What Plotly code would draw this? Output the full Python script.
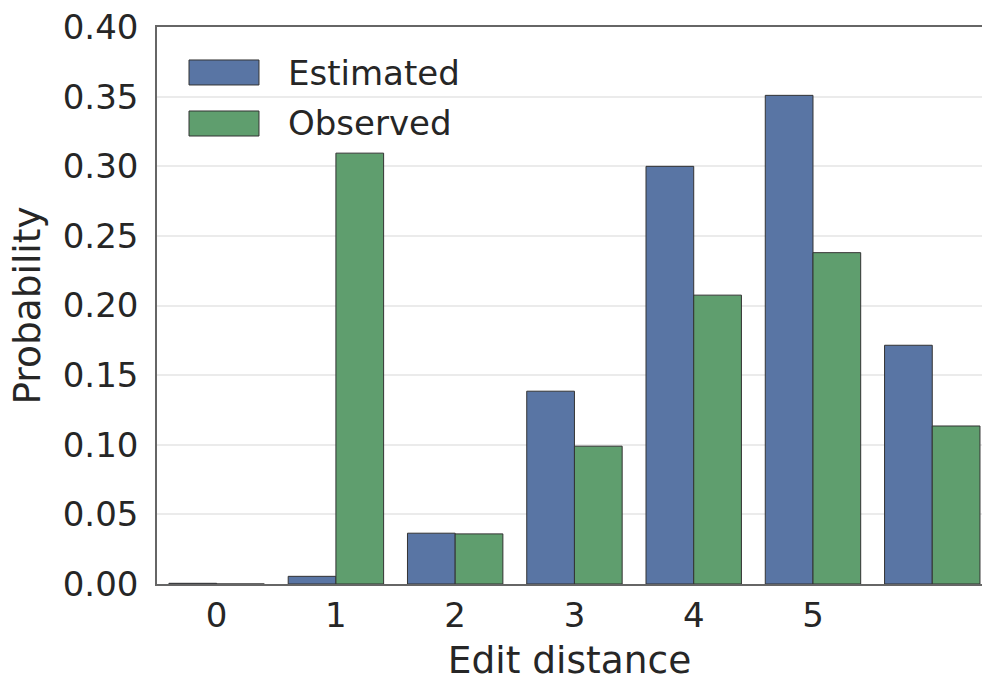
import plotly.graph_objects as go

categories = [0, 1, 2, 3, 4, 5, 6]
tick_labels = ["0", "1", "2", "3", "4", "5"]
y_ticks = [0.0, 0.05, 0.10, 0.15, 0.20, 0.25, 0.30, 0.35, 0.40]
estimated = [0.0005, 0.0055, 0.0365, 0.1385, 0.300, 0.351, 0.1715]
observed = [0.0, 0.3095, 0.036, 0.099, 0.2075, 0.238, 0.1135]

blue = "#5975a4"
green = "#5f9e6e"
edge = "#333333"
font_fam = "DejaVu Sans"
txt = "#262626"

fig = go.Figure()
fig.add_trace(go.Bar(x=categories, y=estimated, name="Estimated",
                     marker=dict(color=blue, line=dict(color=edge, width=1))))
fig.add_trace(go.Bar(x=categories, y=observed, name="Observed",
                     marker=dict(color=green, line=dict(color=edge, width=1))))

fig.update_layout(
    width=982, height=682,
    margin=dict(l=157, r=0, t=27, b=98),
    paper_bgcolor="white", plot_bgcolor="white",
    barmode="group", bargap=0.2, bargroupgap=0,
    showlegend=False,
    font=dict(family=font_fam, color=txt, size=34),
)
fig.update_xaxes(
    range=[-0.5, 6.417],
    tickvals=categories[:6], ticktext=tick_labels,
    showgrid=False, zeroline=False,
    showline=True, linecolor="#666666", linewidth=1.5, mirror=True,
    ticks="", tickfont=dict(size=34, color=txt),
    title=dict(text="Edit distance", font=dict(size=37.5, color=txt), standoff=15),
)
fig.update_yaxes(
    range=[0, 0.4001],
    tickvals=y_ticks, ticktext=[f"{v:.2f}" for v in y_ticks],
    showgrid=True, gridcolor="#ebebeb", gridwidth=1.5,
    zeroline=False,
    showline=True, linecolor="#666666", linewidth=1.5,
    ticks="", tickfont=dict(size=34, color=txt), ticklabelstandoff=10,
    title=dict(text="Probability", font=dict(size=37.5, color=txt), standoff=11),
)

# legend drawn as patches + labels
legend_items = [("Estimated", blue, 0.9408, 0.8959, 0.9183),
                ("Observed", green, 0.8492, 0.8043, 0.8268)]
for label, col, ytop, ybot, ymid in legend_items:
    fig.add_shape(type="rect", xref="paper", yref="paper",
                  x0=0.0388, x1=0.1236, y0=ybot, y1=ytop,
                  fillcolor=col, line=dict(color=edge, width=1))
    fig.add_annotation(xref="paper", yref="paper", x=0.1588, y=ymid,
                       text=label, showarrow=False, xanchor="left", yanchor="middle",
                       xshift=-2, font=dict(size=34, color=txt, family=font_fam))

fig.write_html("out.html", config={"displayModeBar": False},
               post_script="document.body.style.margin='0';document.body.style.overflow='hidden';")
